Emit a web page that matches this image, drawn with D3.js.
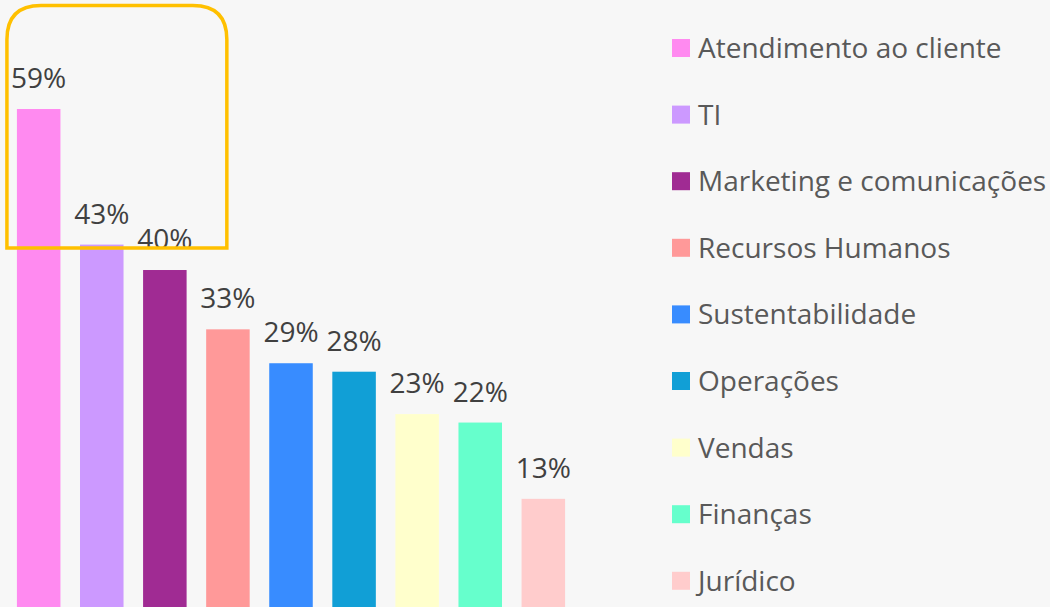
<!DOCTYPE html>
<html lang="pt">
<head>
    <meta charset="utf-8">
    <title>Departamentos</title>
    <script src="https://cdn.jsdelivr.net/npm/d3@7"></script>
    <style>
        body { margin: 0; background: #f7f7f7; }
        svg { display: block; }
    </style>
</head>
<body>
<script>
    var w = 1050;
    var h = 607;

    // dados
    var categories = ["Atendimento ao cliente", "TI", "Marketing e comunicações", "Recursos Humanos",
                      "Sustentabilidade", "Operações", "Vendas", "Finanças", "Jurídico"];
    var values = [59, 43, 40, 33, 29, 28, 23, 22, 13];
    var colours = ["#ff8af0", "#cc99ff", "#a02b93", "#ff9999", "#388cff",
                   "#119fd6", "#ffffcc", "#66ffcc", "#ffcccc"];

    var font = "'Open Sans', 'Noto Sans', sans-serif";

    var svg = d3.select("body")
        .append("svg")
        .attr("width", w)
        .attr("height", h);

    svg.append("rect")
        .attr("width", w)
        .attr("height", h)
        .attr("fill", "#f7f7f7");

    var x = d3.scaleBand()
        .domain(categories)
        .range([-2, 584])
        .paddingInner(0.31)
        .paddingOuter(0.3);

    var y = d3.scaleLinear()
        .domain([0, 59])
        .range([609, 109]);

    var color = d3.scaleOrdinal().domain(categories).range(colours);

    var data = categories.map(function(c, i) { return {cat: c, val: values[i]}; });

    // barras
    svg.selectAll(".bar")
        .data(data)
        .enter().append("rect")
        .attr("class", "bar")
        .attr("x", function(d) { return x(d.cat); })
        .attr("y", function(d) { return y(d.val); })
        .attr("width", x.bandwidth())
        .attr("height", function(d) { return y(0) - y(d.val); })
        .attr("fill", function(d) { return color(d.cat); });

    // rotulos
    svg.selectAll(".lbl")
        .data(data)
        .enter().append("text")
        .attr("class", "lbl")
        .attr("x", function(d) { return x(d.cat) + x.bandwidth() / 2; })
        .attr("y", function(d) { return y(d.val) - 21; })
        .attr("text-anchor", "middle")
        .attr("font-family", font)
        .attr("font-size", 28)
        .attr("fill", "#404040")
        .text(function(d) { return d.val + "%"; });

    // destaque amarelo (3 primeiras barras)
    var bx0 = x(categories[0]) - 10, bx1 = x(categories[2]) + x.bandwidth() / 2 + 62;
    var by0 = 5.5, by1 = 248, r = 34;
    svg.append("path")
        .attr("d", "M" + bx0 + "," + by1 + " L" + bx0 + "," + (by0 + r) +
                   " Q" + bx0 + "," + by0 + " " + (bx0 + r) + "," + by0 +
                   " L" + (bx1 - r) + "," + by0 +
                   " Q" + bx1 + "," + by0 + " " + bx1 + "," + (by0 + r) +
                   " L" + bx1 + "," + by1 + " Z")
        .attr("fill", "none")
        .attr("stroke", "#ffc000")
        .attr("stroke-width", 3.5);

    // legenda
    var legend = svg.selectAll(".leg")
        .data(categories)
        .enter().append("g")
        .attr("class", "leg")
        .attr("transform", function(d, i) { return "translate(672," + (48 + i * 66.6) + ")"; });

    legend.append("rect")
        .attr("x", 0)
        .attr("y", -9)
        .attr("width", 18)
        .attr("height", 18)
        .attr("fill", function(d) { return color(d); });

    legend.append("text")
        .attr("x", 26)
        .attr("y", 0)
        .attr("dy", "0.36em")
        .attr("font-family", font)
        .attr("font-size", 28)
        .attr("fill", "#595959")
        .text(function(d) { return d; });
</script>
</body>
</html>
